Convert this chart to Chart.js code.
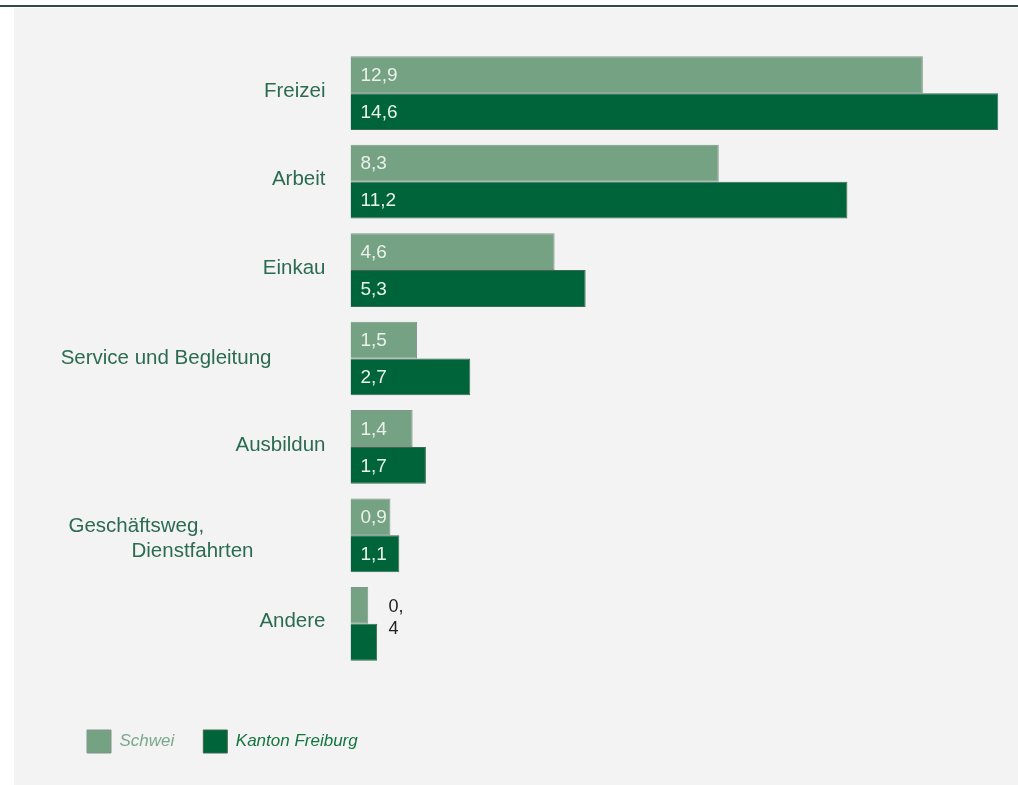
<!DOCTYPE html>
<html>
<head>
<meta charset="utf-8">
<script src="https://cdn.jsdelivr.net/npm/chart.js@4"></script>
<style>
  html, body { margin: 0; padding: 0; background: #ffffff; }
  #wrap { position: relative; width: 1018px; height: 785px; overflow: hidden; }
  #topline { position: absolute; left: 0; top: 5px; width: 1018px; height: 2px; background: #2d4d41; }
  #panel { position: absolute; left: 14px; top: 8px; right: 0; bottom: 0; background: #f3f3f3; }
  #c { position: absolute; left: 0; top: 0; }
</style>
</head>
<body>
<div id="wrap">
  <div id="topline"></div>
  <div id="panel"></div>
  <canvas id="c" width="1018" height="785"></canvas>
</div>
<script>
const categories = ['Freizei', 'Arbeit', 'Einkau', 'Service und Begleitung', 'Ausbildun', ['Geschäftsweg,', 'Dienstfahrten'], 'Andere'];
const seriesNames = ['Schwei', 'Kanton Freiburg'];
const schweizValues = [12.9, 8.3, 4.6, 1.5, 1.4, 0.9, 0.4];
const freiburgValues = [14.6, 11.2, 5.3, 2.7, 1.7, 1.1, 0.6];
const schweizLabels = ['12,9', '8,3', '4,6', '1,5', '1,4', '0,9', '0,4'];
const freiburgLabels = ['14,6', '11,2', '5,3', '2,7', '1,7', '1,1', ''];
const xMin = 0;
const xMax = 15;

const FONT = "'Liberation Sans', Arial, Helvetica, sans-serif";
Chart.defaults.font.family = FONT;

const LIGHT = '#76a284';
const DARK = '#00643a';
const LABEL_COLOR = '#2b6b52';

const yLabelPlugin = {
  id: 'yLabels',
  afterDraw(chart) {
    const ctx = chart.ctx;
    const ys = chart.scales.y;
    const left = chart.chartArea.left;
    ctx.save();
    ctx.font = '20.5px ' + FONT;
    ctx.fillStyle = LABEL_COLOR;
    ctx.textBaseline = 'middle';
    categories.forEach((lab, i) => {
      const y = ys.getPixelForValue(i);
      if (Array.isArray(lab)) {
        ctx.textAlign = 'left';
        ctx.fillText(lab[0], left - 282, y - 9);
        ctx.fillText(lab[1], left - 219, y + 16);
      } else if (i === 3) {
        ctx.textAlign = 'right';
        ctx.fillText(lab, left - 79, y);
      } else {
        ctx.textAlign = 'right';
        ctx.fillText(lab, left - 25, y - 2);
      }
    });
    ctx.restore();
  }
};

const valueLabelPlugin = {
  id: 'valueLabels',
  afterDatasetsDraw(chart) {
    const ctx = chart.ctx;
    const labelSets = [schweizLabels, freiburgLabels];
    ctx.save();
    ctx.textBaseline = 'middle';
    ctx.textAlign = 'left';
    chart.data.datasets.forEach((ds, di) => {
      const meta = chart.getDatasetMeta(di);
      meta.data.forEach((bar, i) => {
        const txt = labelSets[di][i];
        if (!txt) return;
        const w = bar.x - bar.base;
        if (w > 30) {
          ctx.font = '19px ' + FONT;
          ctx.fillStyle = '#e9f1eb';
          ctx.fillText(txt, bar.base + 10, bar.y + 1);
        } else {
          ctx.font = '18px ' + FONT;
          ctx.fillStyle = '#222222';
          const parts = txt.split(',');
          ctx.fillText(parts[0] + ',', bar.base + 38, bar.y + 2);
          ctx.fillText(parts[1], bar.base + 38, bar.y + 24);
        }
      });
    });
    ctx.restore();
  }
};

new Chart(document.getElementById('c'), {
  type: 'bar',
  data: {
    labels: categories,
    datasets: [
      { label: seriesNames[0], data: schweizValues, backgroundColor: LIGHT, borderColor: '#81958a', borderWidth: 1,
        categoryPercentage: 0.834, barPercentage: 1.0 },
      { label: seriesNames[1], data: freiburgValues, backgroundColor: DARK, borderColor: '#3d6b52', borderWidth: 1,
        categoryPercentage: 0.834, barPercentage: 1.0 }
    ]
  },
  options: {
    indexAxis: 'y',
    responsive: false,
    animation: false,
    events: [],
    layout: { padding: { left: 58, top: 49, right: 2, bottom: 22 } },
    scales: {
      x: {
        min: xMin, max: xMax,
        display: true,
        grid: { display: false },
        border: { display: false },
        ticks: { display: false },
        afterFit(s) { s.height = 33; }
      },
      y: {
        display: true,
        grid: { display: false },
        border: { display: false },
        ticks: { display: false },
        afterFit(s) { s.width = 292.5; }
      }
    },
    plugins: {
      tooltip: { enabled: false },
      legend: {
        display: true,
        position: 'bottom',
        align: 'start',
        labels: {
          boxWidth: 24,
          boxHeight: 23,
          padding: 29,
          font: { family: FONT, size: 17, style: 'italic' },
          generateLabels(chart) {
            const items = Chart.defaults.plugins.legend.labels.generateLabels(chart);
            const colors = ['#7aa889', '#13753f'];
            items.forEach((it, i) => { it.fontColor = colors[i]; });
            return items;
          }
        }
      }
    }
  },
  plugins: [yLabelPlugin, valueLabelPlugin]
});
</script>
</body>
</html>
